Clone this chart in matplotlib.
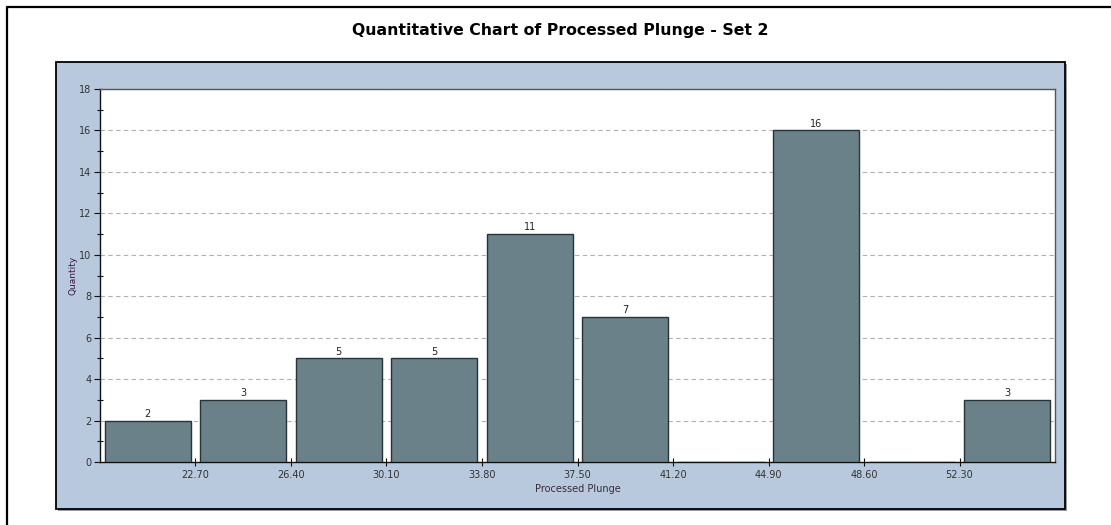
import matplotlib
matplotlib.use("Agg")
import matplotlib.pyplot as plt
from matplotlib.patches import Rectangle
from matplotlib.lines import Line2D
from matplotlib.ticker import MultipleLocator

# Data
bin_edges = [19.00, 22.70, 26.40, 30.10, 33.80, 37.50, 41.20, 44.90, 48.60, 52.30, 56.00]
counts = [2, 3, 5, 5, 11, 7, 0, 16, 0, 3]
tick_values = [22.70, 26.40, 30.10, 33.80, 37.50, 41.20, 44.90, 48.60, 52.30]
tick_labels = ["22.70", "26.40", "30.10", "33.80", "37.50", "41.20", "44.90", "48.60", "52.30"]

title = "Quantitative Chart of Processed Plunge - Set 2"
xlabel = "Processed Plunge"
ylabel = "Quantity"

W, H = 1111, 525
fig = plt.figure(figsize=(W / 100, H / 100), dpi=100)
fig.patch.set_facecolor("white")

# outer frame (top & left visible)
fig.add_artist(Line2D([7 / W, 7 / W, 1.0], [0.0, 1 - 7 / H, 1 - 7 / H],
                      transform=fig.transFigure, color="black", lw=1.6, zorder=-3))

# blue panel with shadow
px0, py0, px1, py1 = 56, 62, 1065, 509
fig.add_artist(Rectangle(((px0 + 2) / W, 1 - (py1 + 2) / H), (px1 - px0) / W, (py1 - py0) / H,
                         transform=fig.transFigure, facecolor="#9a9a9a", edgecolor="none", zorder=-2))
fig.add_artist(Rectangle((px0 / W, 1 - py1 / H), (px1 - px0) / W, (py1 - py0) / H,
                         transform=fig.transFigure, facecolor="#b8c9dd", edgecolor="black",
                         lw=1.3, zorder=-1))

ax0, ay0, ax1, ay1 = 100, 89, 1055, 462
ax = fig.add_axes([ax0 / W, 1 - ay1 / H, (ax1 - ax0) / W, (ay1 - ay0) / H])
ax.set_zorder(1)
ax.set_facecolor("white")

centers = [(bin_edges[i] + bin_edges[i + 1]) / 2 for i in range(len(counts))]
widths = [(bin_edges[i + 1] - bin_edges[i]) * 0.9 for i in range(len(counts))]
bars = ax.bar(centers, counts, width=widths, color="#6a8189", edgecolor="#26343a",
              linewidth=1.0, zorder=3)
for c, v in zip(centers, counts):
    if v > 0:
        ax.text(c, v + 0.08, str(v), ha="center", va="bottom", fontsize=7,
                color="#222222", family="DejaVu Sans", zorder=4)

ax.set_xlim(bin_edges[0], bin_edges[-1])
ax.set_ylim(0, 18)
ax.set_xticks(tick_values)
ax.set_xticklabels(tick_labels)
ax.yaxis.set_major_locator(MultipleLocator(2))
ax.yaxis.set_minor_locator(MultipleLocator(1))

ax.grid(axis="y", which="major", linestyle=(0, (4, 3)), color="#b0b0b0", lw=0.8, zorder=0)
ax.set_axisbelow(True)

for s in ["left", "bottom"]:
    ax.spines[s].set_color("#111111")
    ax.spines[s].set_linewidth(1.0)
for s in ["top", "right"]:
    ax.spines[s].set_color("#555555")
    ax.spines[s].set_linewidth(1.0)

ax.tick_params(axis="x", which="major", direction="inout", length=6, width=0.8,
               labelsize=7, colors="#111111", pad=3)
ax.tick_params(axis="y", which="major", direction="out", length=4, width=0.8,
               labelsize=7, colors="#111111", pad=2)
ax.tick_params(axis="y", which="minor", direction="inout", length=5, width=0.8, colors="#111111")
for lab in ax.get_xticklabels() + ax.get_yticklabels():
    lab.set_color("#333333")

ax.set_xlabel(xlabel, fontsize=7, color="#3a2a3a", labelpad=3)
ax.set_ylabel(ylabel, fontsize=6.5, color="#3a1a3a", labelpad=1)

fig.text((px0 + px1) / 2 / W, 1 - 31 / H, title, ha="center", va="center",
         fontsize=11.3, fontweight="bold", color="black")

fig.savefig("out.png", dpi=100)
